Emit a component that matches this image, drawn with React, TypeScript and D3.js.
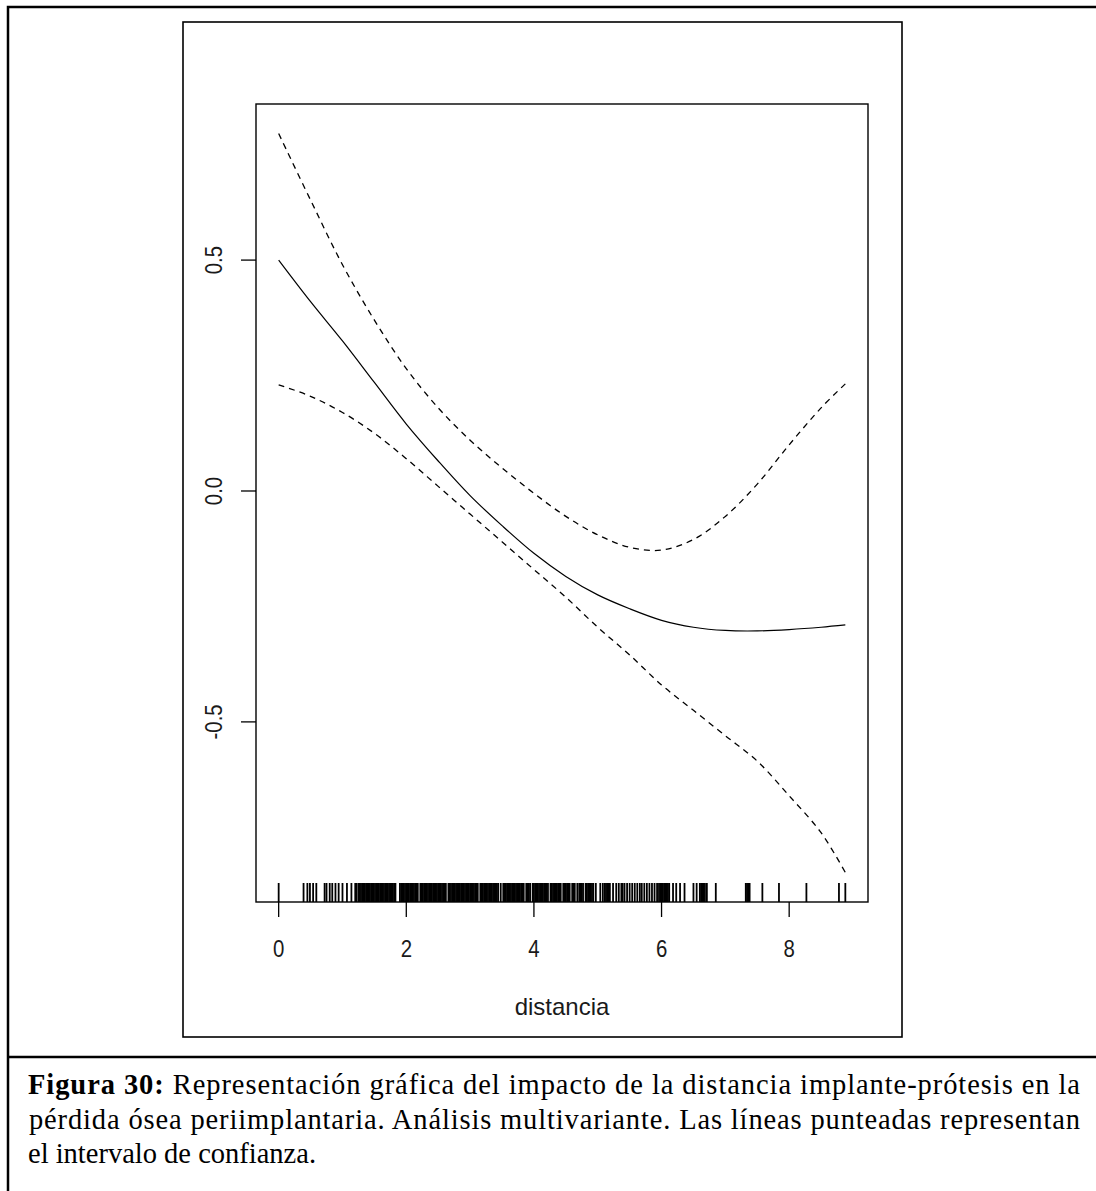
import React from "react";
import * as d3 from "d3";

// ---- data ----
const CURVE_X = [0, 0.5, 1, 1.5, 2, 2.5, 3, 3.5, 4, 4.5, 5, 5.5, 6, 6.5, 7, 7.5, 8, 8.5, 8.88];
const FIT = [0.5, 0.41, 0.325, 0.235, 0.145, 0.065, -0.01, -0.075, -0.135, -0.185, -0.225, -0.255, -0.28, -0.295, -0.302, -0.303, -0.3, -0.295, -0.29];
const UPPER = [0.774, 0.63, 0.49, 0.37, 0.265, 0.18, 0.11, 0.05, -0.005, -0.055, -0.095, -0.122, -0.128, -0.105, -0.055, 0.015, 0.1, 0.18, 0.232];
const LOWER = [0.23, 0.205, 0.17, 0.125, 0.07, 0.01, -0.05, -0.11, -0.17, -0.23, -0.295, -0.355, -0.42, -0.475, -0.53, -0.585, -0.66, -0.74, -0.826];

const RUG_X = [
  0.0, 0.39, 0.45, 0.49, 0.54, 0.59, 0.72, 0.75, 0.8, 0.84, 0.89, 0.94, 1.0, 1.07, 1.14, 1.2, 1.22, 1.25,
  1.27, 1.29, 1.31, 1.33, 1.35, 1.37, 1.39, 1.41, 1.43, 1.45, 1.47, 1.49, 1.51, 1.53, 1.55, 1.57, 1.59,
  1.61, 1.63, 1.65, 1.67, 1.69, 1.71, 1.73, 1.75, 1.77, 1.79, 1.81, 1.83,
  1.9, 1.92, 1.94, 1.96, 1.98, 2.0, 2.02, 2.04, 2.06, 2.08, 2.1, 2.12, 2.14, 2.16, 2.18, 2.22, 2.24, 2.26, 2.28,
  2.3, 2.32, 2.34, 2.36, 2.38, 2.4, 2.42, 2.44, 2.46, 2.48, 2.5, 2.52, 2.54, 2.56, 2.58, 2.6, 2.62, 2.66, 2.68,
  2.7, 2.72, 2.74, 2.76, 2.78, 2.8, 2.82, 2.84, 2.86, 2.88, 2.9, 2.92, 2.94, 2.96, 2.98, 3.0, 3.02, 3.04, 3.06, 3.08,
  3.1, 3.12, 3.16, 3.18, 3.2, 3.22, 3.24, 3.26, 3.28, 3.3, 3.32, 3.34, 3.36, 3.38, 3.4, 3.42, 3.44, 3.48,
  3.52, 3.54, 3.56, 3.58, 3.6, 3.62, 3.64, 3.66, 3.68, 3.7, 3.72, 3.74, 3.76, 3.78, 3.8, 3.82, 3.84, 3.88,
  3.9, 3.92, 3.94, 3.98, 4.0, 4.02, 4.04, 4.06, 4.08, 4.1, 4.12, 4.14, 4.16, 4.18, 4.2, 4.22, 4.26, 4.28,
  4.3, 4.32, 4.34, 4.36, 4.38, 4.4, 4.42, 4.46, 4.48, 4.5, 4.52, 4.54, 4.56, 4.6, 4.62, 4.64,
  4.68, 4.71, 4.73, 4.75, 4.77, 4.81, 4.83, 4.85, 4.87, 4.89, 4.91, 4.93,
  4.97, 5.04, 5.08, 5.11, 5.13, 5.15, 5.17, 5.19, 5.24, 5.29, 5.33, 5.37, 5.39, 5.42, 5.46, 5.5, 5.54, 5.58,
  5.62, 5.66, 5.69, 5.73, 5.77, 5.81, 5.85, 5.89, 5.93,
  5.96, 5.98, 6.0, 6.02, 6.04, 6.06, 6.08, 6.1, 6.12,
  6.18, 6.23, 6.29, 6.36, 6.5, 6.55, 6.6, 6.62, 6.64, 6.66, 6.68, 6.71, 6.85, 7.32, 7.34, 7.36, 7.38,
  7.58, 7.84, 8.27, 8.78, 8.88,
];

const X_TICKS = [0, 2, 4, 6, 8];
const Y_TICKS = [-0.5, 0, 0.5];
const Y_TICK_LABELS = ["-0.5", "0.0", "0.5"];
const X_LABEL = "distancia";
const CAPTION_BOLD = "Figura 30:";
const CAPTION_LINE1 = " Representación gráfica del impacto de la distancia implante-prótesis en la";
const CAPTION_LINE2 = "pérdida ósea periimplantaria. Análisis multivariante. Las líneas punteadas representan";
const CAPTION_LINE3 = "el intervalo de confianza.";

export default function App() {
  const W = 1096;
  const H = 1191;
  const plot = { left: 256, right: 868, top: 104, bottom: 902 };

  const xExt = d3.extent(RUG_X) as [number, number];
  const xr = xExt[1] - xExt[0];
  const x = d3.scaleLinear().domain([xExt[0] - 0.04 * xr, xExt[1] + 0.04 * xr]).range([plot.left, plot.right]);

  const yMin = d3.min(LOWER) as number;
  const yMax = d3.max(UPPER) as number;
  const yr = yMax - yMin;
  const y = d3.scaleLinear().domain([yMin - 0.04 * yr, yMax + 0.04 * yr]).range([plot.bottom, plot.top]);

  const line = (vals: number[]) =>
    d3
      .line<number>()
      .x((_, i) => x(CURVE_X[i]))
      .y((v) => y(v))
      .curve(d3.curveCatmullRom.alpha(0.5))(vals) as string;

  const axisFont = "'Liberation Sans', Arial, Helvetica, sans-serif";
  const serif = "'Liberation Serif', 'Times New Roman', serif";
  const textCol = "#1a1a1a";

  return (
    <svg width={W} height={H} style={{ position: "absolute", left: 0, top: 0, background: "#fff" }}>
      <rect x={0} y={0} width={W} height={H} fill="#fff" />
      {/* outer page frame */}
      <rect x={8} y={7} width={W + 20} height={H + 20} fill="none" stroke="#000" strokeWidth={2.5} />
      <line x1={8} x2={W} y1={1057} y2={1057} stroke="#000" strokeWidth={2.5} />
      {/* figure frame */}
      <rect x={183} y={22} width={719} height={1015} fill="none" stroke="#000" strokeWidth={1.6} />
      {/* plot box */}
      <rect
        x={plot.left}
        y={plot.top}
        width={plot.right - plot.left}
        height={plot.bottom - plot.top}
        fill="none"
        stroke="#000"
        strokeWidth={1.4}
      />
      {/* curves */}
      <path d={line(FIT)} fill="none" stroke="#000" strokeWidth={1.2} />
      <path d={line(UPPER)} fill="none" stroke="#000" strokeWidth={1.3} strokeDasharray="6,5" />
      <path d={line(LOWER)} fill="none" stroke="#000" strokeWidth={1.3} strokeDasharray="6,5" />
      {/* rug */}
      {RUG_X.map((v, i) => (
        <line key={"r" + i} x1={x(v)} x2={x(v)} y1={plot.bottom} y2={plot.bottom - 19} stroke="#000" strokeWidth={1.8} />
      ))}
      {/* x axis */}
      {X_TICKS.map((t) => (
        <g key={"xt" + t}>
          <line x1={x(t)} x2={x(t)} y1={plot.bottom} y2={plot.bottom + 15} stroke="#000" strokeWidth={1.3} />
          <text
            transform={`translate(${x(t)},${957}) scale(0.85,1)`}
            textAnchor="middle"
            fontFamily={axisFont}
            fontSize={24}
            fill={textCol}
          >
            {String(t)}
          </text>
        </g>
      ))}
      {/* y axis */}
      {Y_TICKS.map((t, i) => (
        <g key={"yt" + t}>
          <line x1={plot.left - 15} x2={plot.left} y1={y(t)} y2={y(t)} stroke="#000" strokeWidth={1.3} />
          <text
            transform={`translate(${222},${y(t)}) rotate(-90) scale(0.85,1)`}
            textAnchor="middle"
            fontFamily={axisFont}
            fontSize={24}
            fill={textCol}
          >
            {Y_TICK_LABELS[i]}
          </text>
        </g>
      ))}
      <text x={(plot.left + plot.right) / 2} y={1015} textAnchor="middle" fontFamily={axisFont} fontSize={24} fill={textCol}>
        {X_LABEL}
      </text>
      {/* caption */}
      <text x={28} y={1094} fontFamily={serif} fontSize={28.5} fill="#000" textLength={1052} lengthAdjust="spacing">
        <tspan fontWeight="bold">{CAPTION_BOLD}</tspan>
        <tspan>{CAPTION_LINE1}</tspan>
      </text>
      <text x={29} y={1129} fontFamily={serif} fontSize={28.5} fill="#000" textLength={1051} lengthAdjust="spacing">
        {CAPTION_LINE2}
      </text>
      <text x={28} y={1163} fontFamily={serif} fontSize={28.5} fill="#000">
        {CAPTION_LINE3}
      </text>
    </svg>
  );
}
